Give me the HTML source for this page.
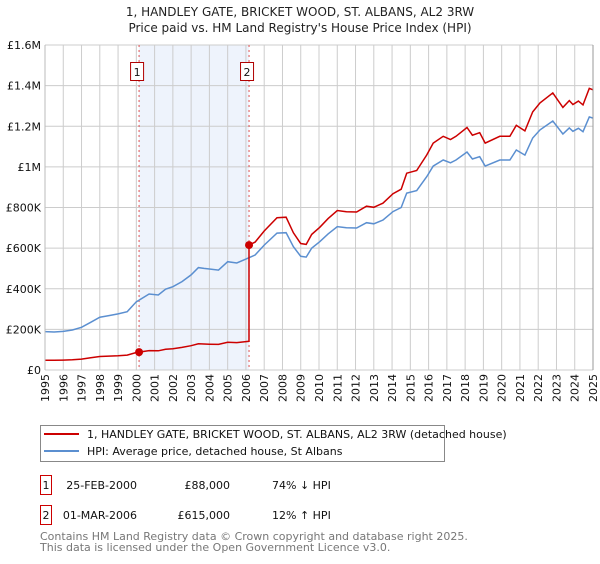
<!DOCTYPE html>
<html><head><meta charset="utf-8">
<style>
body{margin:0;background:#fff;font-family:"DejaVu Sans","Liberation Sans",sans-serif;}
svg text{font-family:"DejaVu Sans","Liberation Sans",sans-serif;}
</style></head>
<body>
<svg id="c" width="600" height="560" xmlns="http://www.w3.org/2000/svg">
<text x="300" y="16" text-anchor="middle" font-size="12" fill="#222">1, HANDLEY GATE, BRICKET WOOD, ST. ALBANS, AL2 3RW</text>
<text x="300" y="32" text-anchor="middle" font-size="12" fill="#222">Price paid vs. HM Land Registry's House Price Index (HPI)</text>
<g id="plot"></g>
<g>
<rect x="40.5" y="425.5" width="404" height="36" fill="#fff" stroke="#888"/>
<line x1="44" y1="434" x2="79" y2="434" stroke="#cc0000" stroke-width="2"/>
<text x="87" y="438" font-size="11" fill="#111">1, HANDLEY GATE, BRICKET WOOD, ST. ALBANS, AL2 3RW (detached house)</text>
<line x1="44" y1="451" x2="79" y2="451" stroke="#5b8fd0" stroke-width="2"/>
<text x="87" y="455" font-size="11" fill="#111">HPI: Average price, detached house, St Albans</text>
</g>
<g font-size="11" fill="#111">
<rect x="40.5" y="475.5" width="11" height="19" fill="#fff" stroke="#cc0000"/>
<text x="46" y="489" text-anchor="middle">1</text>
<text x="137" y="489" text-anchor="end">25-FEB-2000</text>
<text x="230" y="489" text-anchor="end">£88,000</text>
<text x="272" y="489">74% ↓ HPI</text>
<rect x="40.5" y="505.5" width="11" height="19" fill="#fff" stroke="#cc0000"/>
<text x="46" y="519" text-anchor="middle">2</text>
<text x="137" y="519" text-anchor="end">01-MAR-2006</text>
<text x="230" y="519" text-anchor="end">£615,000</text>
<text x="272" y="519">12% ↑ HPI</text>
</g>
<text x="40" y="540" font-size="11" fill="#777">Contains HM Land Registry data © Crown copyright and database right 2025.</text>
<text x="40" y="551" font-size="11" fill="#777">This data is licensed under the Open Government Licence v3.0.</text>
</svg>
<script>
const hpiYears=[1995,1995.5,1996,1996.5,1997,1997.5,1998,1998.5,1999,1999.5,2000,2000.7,2001.2,2001.6,2002,2002.5,2003,2003.4,2003.7,2004,2004.5,2005,2005.5,2006,2006.5,2007,2007.7,2008.2,2008.6,2009,2009.3,2009.6,2010.05,2010.5,2011,2011.5,2012.06,2012.6,2013,2013.5,2014.05,2014.5,2014.8,2015.35,2015.9,2016.25,2016.8,2017.2,2017.5,2018.1,2018.4,2018.8,2019.1,2019.9,2020.45,2020.8,2021.27,2021.7,2022.1,2022.8,2023.35,2023.7,2023.9,2024.2,2024.45,2024.8,2025];
const hpiValues=[189,187,190,197,210,235,260,268,276,287,336,374,369,398,410,435,468,504,500,497,492,533,527,546,566,615,674,676,607,560,556,600,632,670,706,700,699,725,720,738,780,800,871,883,952,1004,1034,1020,1034,1073,1039,1050,1004,1034,1034,1083,1058,1142,1182,1226,1162,1192,1175,1190,1173,1246,1240];
const saleYears=[2000.15,2006.17];
const salePrices=[88,615];
const yTicks=[0,200,400,600,800,1000,1200,1400,1600];
const yTickLabels=["£0","£200K","£400K","£600K","£800K","£1M","£1.2M","£1.4M","£1.6M"];
const xTicks=[1995,1996,1997,1998,1999,2000,2001,2002,2003,2004,2005,2006,2007,2008,2009,2010,2011,2012,2013,2014,2015,2016,2017,2018,2019,2020,2021,2022,2023,2024,2025];

const X0=45,X1=593,Y0=370,Y1=45;
const xs=y=>X0+(y-1995)/30*(X1-X0);
const ys=v=>Y0-v/1600*(Y0-Y1);
const NS="http://www.w3.org/2000/svg";
const g=document.getElementById('plot');
function mk(t,a){const e=document.createElementNS(NS,t);for(const k in a)e.setAttribute(k,a[k]);g.appendChild(e);return e;}
function hpiAt(t){for(let i=0;i<hpiYears.length-1;i++){if(t<=hpiYears[i+1]){const f=(t-hpiYears[i])/(hpiYears[i+1]-hpiYears[i]);return hpiValues[i]+f*(hpiValues[i+1]-hpiValues[i]);}}return hpiValues[hpiValues.length-1];}

let e=mk('rect',{x:xs(saleYears[0]),y:Y1,width:xs(saleYears[1])-xs(saleYears[0]),height:Y0-Y1,fill:'#eef3fc'});


xTicks.forEach(t=>{const l=mk('line',{x1:xs(t),x2:xs(t),y1:Y1,y2:Y0,stroke:'#cccccc','stroke-width':1});


const px=xs(t)+4,py=Y0+4;
const tx=mk('text',{x:px,y:py,'text-anchor':'end','font-size':11,fill:'#111',transform:'rotate(-90 '+px+' '+py+')'});tx.textContent=t;

});
yTicks.forEach((t,i)=>{const l=mk('line',{x1:X0,x2:X1,y1:ys(t),y2:ys(t),stroke:'#cccccc','stroke-width':1});


const tx=mk('text',{x:X0-4,y:ys(t)+4,'text-anchor':'end','font-size':11,fill:'#111'});tx.textContent=yTickLabels[i];

});
saleYears.forEach((s,i)=>{const l=mk('line',{x1:xs(s),x2:xs(s),y1:Y1,y2:Y0,stroke:'#e05050','stroke-width':1,'stroke-dasharray':'2,3'});


const bx=xs(s)-12;
const r=mk('rect',{x:bx+3.5,y:62.5,width:13,height:18,fill:'#fff',stroke:'#b00000'});


const t=mk('text',{x:bx+10,y:76,'text-anchor':'middle','font-size':11,fill:'#111'});t.textContent=i+1;

});

let d=hpiYears.map((y,i)=>(i?'L':'M')+xs(y).toFixed(1)+','+ys(hpiValues[i]).toFixed(1)).join('');
e=mk('path',{d:d,fill:'none',stroke:'#5b8fd0','stroke-width':1.5});


const f0=salePrices[0]/hpiAt(saleYears[0]),f1=salePrices[1]/hpiAt(saleYears[1]);
let pts=[];
hpiYears.forEach((y,i)=>{if(y<saleYears[0])pts.push([y,hpiValues[i]*f0]);});
pts.push([saleYears[0],salePrices[0]]);
hpiYears.forEach((y,i)=>{if(y>saleYears[0]&&y<saleYears[1])pts.push([y,hpiValues[i]*f0]);});
pts.push([saleYears[1],hpiAt(saleYears[1])*f0]);
pts.push([saleYears[1],salePrices[1]]);
hpiYears.forEach((y,i)=>{if(y>saleYears[1])pts.push([y,hpiValues[i]*f1]);});
d=pts.map((p,i)=>(i?'L':'M')+xs(p[0]).toFixed(1)+','+ys(p[1]).toFixed(1)).join('');
e=mk('path',{d:d,fill:'none',stroke:'#cc0000','stroke-width':1.5});


saleYears.forEach((s,i)=>{const c=mk('circle',{cx:xs(s),cy:ys(salePrices[i]),r:4,fill:'#cc0000'});

});
e=mk('line',{x1:X0,x2:X0,y1:Y1,y2:Y0,stroke:'#bbb'});


e=mk('line',{x1:X1,x2:X1,y1:Y1,y2:Y0,stroke:'#999'});


</script>
</body></html>
